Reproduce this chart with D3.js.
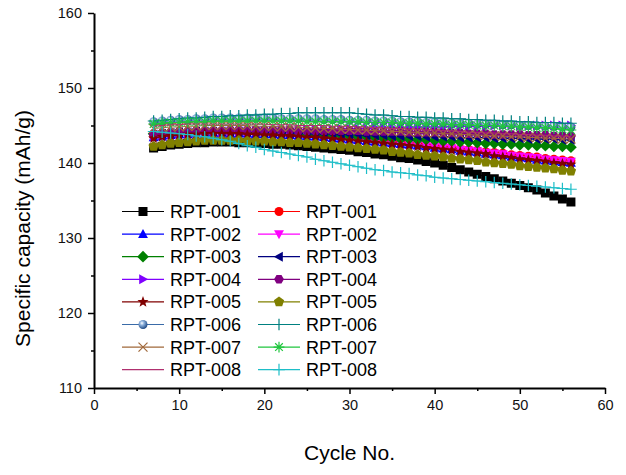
<!DOCTYPE html>
<html><head><meta charset="utf-8">
<script src="https://cdn.jsdelivr.net/npm/d3@7"></script>
<style>
html,body{margin:0;padding:0;background:#fff;}
svg{display:block;font-family:"Liberation Sans",Arial,sans-serif;}
</style></head>
<body><div id="chart"></div>
<script>
const cycles = [7,8,9,10,11,12,13,14,15,16,17,18,19,20,21,22,23,24,25,26,27,28,29,30,31,32,33,34,35,36,37,38,39,40,41,42,43,44,45,46,47,48,49,50,51,52,53,54,55,56];
const xTicks = [0,10,20,30,40,50,60];
const yTicks = [110,120,130,140,150,160];
const xTitle = "Cycle No.";
const yTitle = "Specific capacity (mAh/g)";
const seriesNames = ["RPT-001","RPT-001","RPT-002","RPT-002","RPT-003","RPT-003","RPT-004","RPT-004","RPT-005","RPT-005","RPT-006","RPT-006","RPT-007","RPT-007","RPT-008","RPT-008"];

const s01 = [142.0,142.2,142.4,142.5,142.6,142.7,142.7,142.8,142.8,142.8, 142.7,142.7,142.6,142.6,142.5,142.5,142.4,142.3,142.2,142.1, 142.0,141.9,141.8,141.7,141.5,141.4,141.2,141.1,140.9,140.7, 140.6,140.4,140.2,140.0,139.7,139.4,139.1,138.8,138.5,138.2, 137.9,137.6,137.3,137.0,136.7,136.4,136.0,135.6,135.2,134.8];
const s02 = [143.6,143.8,143.9,144.0,144.0,144.1,144.1,144.2,144.2,144.1, 144.1,144.1,144.0,144.0,143.9,143.9,143.8,143.8,143.7,143.7, 143.6,143.5,143.5,143.4,143.3,143.2,143.1,143.0,142.9,142.8, 142.7,142.6,142.5,142.3,142.2,142.1,141.9,141.8,141.7,141.5, 141.4,141.3,141.1,141.0,140.9,140.8,140.6,140.5,140.4,140.3];
const s03 = [143.4,143.5,143.7,143.8,143.8,143.9,143.9,144.0,144.0,143.9, 143.9,143.9,143.8,143.8,143.8,143.7,143.7,143.6,143.5,143.5, 143.4,143.3,143.2,143.1,143.0,142.9,142.8,142.7,142.6,142.5, 142.4,142.3,142.2,142.0,141.9,141.8,141.6,141.5,141.4,141.2, 141.1,141.0,140.8,140.7,140.6,140.4,140.3,140.2,140.1,140.0];
const s04 = [143.5,143.7,143.8,143.9,144.0,144.0,144.1,144.1,144.1,144.1, 144.1,144.0,144.0,144.0,143.9,143.9,143.8,143.8,143.7,143.6, 143.6,143.5,143.4,143.3,143.2,143.1,143.0,142.9,142.8,142.7, 142.6,142.5,142.4,142.2,142.1,142.0,141.8,141.7,141.6,141.4, 141.3,141.2,141.0,140.9,140.8,140.7,140.5,140.4,140.3,140.2];
const s05 = [143.9,144.0,144.1,144.2,144.2,144.3,144.3,144.3,144.3,144.3, 144.3,144.2,144.2,144.1,144.1,144.0,144.0,143.9,143.9,143.8, 143.8,143.7,143.7,143.6,143.5,143.5,143.4,143.3,143.3,143.2, 143.2,143.1,143.1,143.0,142.9,142.9,142.8,142.8,142.7,142.6, 142.6,142.5,142.5,142.4,142.4,142.3,142.3,142.2,142.2,142.1];
const s06 = [143.8,143.9,144.0,144.1,144.1,144.2,144.2,144.2,144.2,144.2, 144.2,144.2,144.2,144.1,144.1,144.1,144.0,144.0,144.0,143.9, 143.9,143.9,143.8,143.8,143.8,143.7,143.7,143.7,143.6,143.6, 143.6,143.6,143.5,143.5,143.5,143.5,143.4,143.4,143.4,143.4, 143.3,143.3,143.3,143.3,143.2,143.2,143.2,143.2,143.1,143.1];
const s07 = [143.6,143.7,143.8,143.9,143.9,144.0,144.0,144.1,144.1,144.2, 144.2,144.2,144.3,144.3,144.3,144.4,144.4,144.4,144.5,144.5, 144.5,144.5,144.6,144.6,144.6,144.6,144.7,144.7,144.7,144.7, 144.8,144.8,144.8,144.8,144.8,144.9,144.9,144.9,144.9,144.9, 145.0,145.0,145.0,145.0,145.0,145.0,145.0,145.0,145.0,145.0];
const s08 = [143.9,144.0,144.1,144.2,144.2,144.3,144.3,144.3,144.3,144.4, 144.4,144.4,144.4,144.4,144.4,144.4,144.4,144.3,144.3,144.3, 144.3,144.3,144.3,144.3,144.3,144.2,144.2,144.2,144.2,144.2, 144.1,144.1,144.1,144.1,144.0,144.0,144.0,143.9,143.9,143.9, 143.8,143.8,143.8,143.8,143.7,143.7,143.7,143.6,143.6,143.6];
const s09 = [143.3,143.5,143.6,143.7,143.8,143.8,143.9,143.9,143.9,143.9, 143.9,143.8,143.8,143.7,143.7,143.6,143.6,143.5,143.4,143.4, 143.3,143.2,143.1,143.0,142.9,142.8,142.7,142.6,142.5,142.4, 142.3,142.2,142.0,141.9,141.8,141.7,141.5,141.4,141.3,141.2, 140.9,140.8,140.7,140.5,140.4,140.3,140.2,140.0,139.9,139.8];
const s10 = [142.2,142.4,142.6,142.7,142.8,142.9,143.0,143.0,143.0,143.0, 143.0,142.9,142.9,142.9,142.8,142.8,142.7,142.7,142.6,142.5, 142.4,142.3,142.2,142.1,142.0,141.9,141.8,141.7,141.5,141.4, 141.3,141.1,141.0,140.9,140.8,140.6,140.5,140.4,140.3,140.1, 140.0,139.9,139.8,139.6,139.5,139.4,139.3,139.2,139.0,138.9];
const s11 = [145.5,145.6,145.7,145.8,145.8,145.9,145.9,146.0,146.0,146.0, 146.0,146.0,146.0,146.0,146.0,145.9,145.9,145.9,145.9,145.9, 145.8,145.8,145.8,145.7,145.7,145.7,145.6,145.6,145.6,145.5, 145.5,145.5,145.4,145.4,145.4,145.3,145.3,145.3,145.2,145.2, 145.2,145.1,145.1,145.0,145.0,145.0,144.9,144.9,144.8,144.8];
const s12 = [145.6,145.7,145.8,145.9,146.0,146.0,146.1,146.2,146.2,146.3, 146.3,146.4,146.4,146.5,146.5,146.6,146.6,146.7,146.7,146.7, 146.7,146.7,146.7,146.7,146.6,146.5,146.4,146.4,146.3,146.2, 146.2,146.1,146.1,146.0,146.0,145.9,145.9,145.8,145.8,145.7, 145.7,145.6,145.6,145.5,145.5,145.4,145.4,145.4,145.3,145.3];
const s13 = [144.6,144.7,144.8,144.8,144.9,144.9,145.0,145.0,145.0,145.0, 145.0,145.0,144.9,144.9,144.9,144.8,144.8,144.8,144.7,144.7, 144.6,144.6,144.5,144.5,144.4,144.4,144.3,144.3,144.2,144.2, 144.1,144.1,144.0,144.0,143.9,143.9,143.8,143.8,143.7,143.7, 143.6,143.6,143.5,143.5,143.4,143.4,143.3,143.3,143.2,143.2];
const s14 = [145.2,145.3,145.4,145.4,145.5,145.5,145.5,145.6,145.6,145.6, 145.6,145.6,145.6,145.6,145.6,145.6,145.6,145.6,145.5,145.5, 145.5,145.5,145.5,145.5,145.5,145.4,145.4,145.4,145.4,145.3, 145.3,145.3,145.2,145.2,145.2,145.1,145.1,145.1,145.0,145.0, 145.0,144.9,144.9,144.8,144.8,144.7,144.7,144.6,144.5,144.4];
const s15 = [144.9,145.0,145.1,145.1,145.2,145.2,145.2,145.2,145.2,145.2, 145.2,145.2,145.2,145.2,145.1,145.1,145.1,145.0,145.0,145.0, 145.0,144.9,144.9,144.9,144.8,144.8,144.7,144.7,144.6,144.6, 144.5,144.5,144.4,144.4,144.3,144.3,144.2,144.1,144.1,144.0, 144.0,143.9,143.9,143.8,143.8,143.7,143.7,143.6,143.6,143.5];
const s16 = [144.2,144.1,144.0,143.9,143.8,143.6,143.5,143.3,143.1,142.9, 142.6,142.3,142.1,141.8,141.6,141.4,141.2,141.0,140.8,140.5, 140.3,140.1,139.9,139.7,139.5,139.3,139.1,139.0,138.8,138.7, 138.6,138.4,138.3,138.1,138.0,137.9,137.8,137.7,137.6,137.5, 137.4,137.3,137.2,137.1,137.0,136.9,136.8,136.7,136.6,136.5];

const seriesValues = [s01,s02,s03,s04,s05,s06,s07,s08,s09,s10,s11,s12,s13,s14,s15,s16];

// styles (not data)
const styles = [
  {color:"#000000", shape:"square"},
  {color:"#FF0000", shape:"circle"},
  {color:"#0000FF", shape:"triUp"},
  {color:"#FF00FF", shape:"triDown"},
  {color:"#008000", shape:"diamond"},
  {color:"#000080", shape:"triLeft"},
  {color:"#8000FF", shape:"triRight"},
  {color:"#800080", shape:"hexagon"},
  {color:"#800000", shape:"star"},
  {color:"#808000", shape:"pentagon"},
  {color:"#3A6BA8", shape:"sphere"},
  {color:"#008080", shape:"plus"},
  {color:"#A0683A", shape:"cross"},
  {color:"#1FC63E", shape:"asterisk"},
  {color:"#B0306F", shape:"none"},
  {color:"#1EBEC8", shape:"plus"}
];

const W = 626, H = 475;
const margin = {left:94, right:21, top:13, bottom:87};
const svg = d3.select("#chart").append("svg").attr("width",W).attr("height",H);

const defs = svg.append("defs");
const grad = defs.append("radialGradient").attr("id","sph").attr("cx","38%").attr("cy","35%").attr("r","65%");
grad.append("stop").attr("offset","0%").attr("stop-color","#ffffff");
grad.append("stop").attr("offset","35%").attr("stop-color","#8fb3de");
grad.append("stop").attr("offset","100%").attr("stop-color","#1f4a85");

const x = d3.scaleLinear().domain([0,60]).range([margin.left, W - margin.right]);
const y = d3.scaleLinear().domain([110,160]).range([H - margin.bottom, margin.top]);

function poly(n, r, rot){
  const pts = [];
  for(let i=0;i<n;i++){const a = rot + i*2*Math.PI/n; pts.push([r*Math.cos(a), r*Math.sin(a)]);}
  return "M" + pts.map(p=>p[0].toFixed(2)+","+p[1].toFixed(2)).join("L") + "Z";
}
function starPath(R, r){
  const pts=[];
  for(let i=0;i<10;i++){const a=-Math.PI/2 + i*Math.PI/5; const rr = i%2?r:R; pts.push([rr*Math.cos(a), rr*Math.sin(a)]);}
  return "M" + pts.map(p=>p[0].toFixed(2)+","+p[1].toFixed(2)).join("L") + "Z";
}
function shapePath(shape){
  const r = 4.5;
  switch(shape){
    case "square": return `M${-r},${-r}H${r}V${r}H${-r}Z`;
    case "circle": case "sphere": return `M${r},0A${r},${r} 0 1,1 ${-r},0A${r},${r} 0 1,1 ${r},0Z`;
    case "triUp": return `M0,${-r*1.15}L${r*1.1},${r*0.85}L${-r*1.1},${r*0.85}Z`;
    case "triDown": return `M0,${r*1.15}L${r*1.1},${-r*0.85}L${-r*1.1},${-r*0.85}Z`;
    case "triLeft": return `M${-r*1.15},0L${r*0.85},${-r*1.1}L${r*0.85},${r*1.1}Z`;
    case "triRight": return `M${r*1.15},0L${-r*0.85},${-r*1.1}L${-r*0.85},${r*1.1}Z`;
    case "diamond": return `M0,${-r*1.3}L${r*1.3},0L0,${r*1.3}L${-r*1.3},0Z`;
    case "hexagon": return poly(6, r*1.1, 0);
    case "pentagon": return poly(5, r*1.2, -Math.PI/2);
    case "star": return starPath(r*1.3, r*0.55);
    case "plus": return `M0,${-r*1.3}V${r*1.3}M${-r*1.3},0H${r*1.3}`;
    case "cross": return `M${-r},${-r}L${r},${r}M${-r},${r}L${r},${-r}`;
    case "asterisk": return `M0,${-r*1.2}V${r*1.2}M${-r*1.2},0H${r*1.2}M${-r*0.85},${-r*0.85}L${r*0.85},${r*0.85}M${-r*0.85},${r*0.85}L${r*0.85},${-r*0.85}`;
  }
  return "";
}
function drawMarker(g, st){
  if(st.shape==="none") return;
  const stroked = ["plus","cross","asterisk"].includes(st.shape);
  const p = g.append("path").attr("d", shapePath(st.shape));
  if(stroked) p.attr("fill","none").attr("stroke",st.color).attr("stroke-width",1.2);
  else if(st.shape==="sphere") p.attr("fill","url(#sph)");
  else p.attr("fill",st.color);
}

// axes
const gx = svg.append("g").attr("transform",`translate(0,${y(110)})`);
gx.call(d3.axisBottom(x).tickValues(d3.range(5,60,10)).tickSize(3).tickFormat("")).call(g=>g.select(".domain").remove());
gx.append("g").call(d3.axisBottom(x).tickValues(xTicks).tickSize(6).tickSizeOuter(0).tickPadding(6));
const gy = svg.append("g").attr("transform",`translate(${x(0)},0)`);
gy.call(d3.axisLeft(y).tickValues(d3.range(115,160,10)).tickSize(3).tickFormat("")).call(g=>g.select(".domain").remove());
gy.append("g").call(d3.axisLeft(y).tickValues(yTicks).tickSize(6).tickSizeOuter(0).tickPadding(6));
svg.selectAll(".domain").attr("stroke","#000").attr("stroke-width",2);
svg.selectAll(".tick line").attr("stroke","#000").attr("stroke-width",1.5);
svg.selectAll(".tick text").attr("font-size",14.5).attr("fill","#111").attr("font-family","Liberation Sans, Arial, sans-serif");

// titles
svg.append("text").attr("x",(x(0)+x(60))/2).attr("y",460).attr("text-anchor","middle")
  .attr("font-size",21).attr("fill","#000").text(xTitle);
svg.append("text").attr("transform",`translate(30,${(y(110)+y(160))/2+28}) rotate(-90)`).attr("text-anchor","middle")
  .attr("font-size",21).attr("fill","#000").text(yTitle);

// series
const line = d3.line().x((d,i)=>x(cycles[i])).y(d=>y(d));
seriesValues.forEach((vals, si)=>{
  const st = styles[si];
  const g = svg.append("g");
  g.append("path").attr("d", line(vals)).attr("fill","none").attr("stroke",st.color).attr("stroke-width",1);
  vals.forEach((v,i)=>{
    const mg = g.append("g").attr("transform",`translate(${x(cycles[i])},${y(v)})`);
    drawMarker(mg, st);
  });
});

// legend
const leg = svg.append("g");
const colX = [122, 258];
seriesNames.forEach((name, i)=>{
  const col = i%2, row = Math.floor(i/2);
  const ly = 211.5 + row*22.6;
  const st = styles[i];
  const x0 = colX[col];
  leg.append("line").attr("x1",x0).attr("x2",x0+42).attr("y1",ly).attr("y2",ly).attr("stroke",st.color).attr("stroke-width",1.2);
  const mg = leg.append("g").attr("transform",`translate(${x0+21},${ly})`);
  drawMarker(mg, st);
  leg.append("text").attr("x",x0+48).attr("y",ly+6.5).attr("font-size",18).attr("fill","#000").text(name);
});
</script></body></html>
